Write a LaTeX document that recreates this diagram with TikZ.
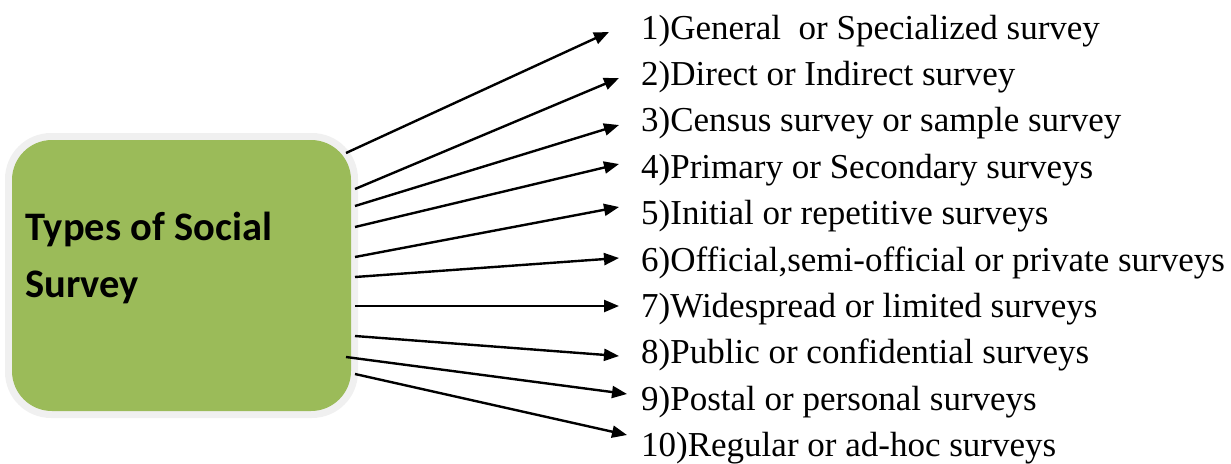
\documentclass[tikz,border=0pt]{standalone}
\usepackage{fontspec}
\setmainfont{Liberation Serif}
\newfontfamily\boxfont{Carlito}
\usetikzlibrary{arrows.meta}
\definecolor{boxgreen}{HTML}{9BBB59}
\definecolor{boxrim}{HTML}{F0F0F0}
\begin{document}
\begin{tikzpicture}[x=1pt,y=-1pt,
  item/.style={anchor=base west,inner sep=0pt,font=\fontsize{35}{35}\selectfont},
  link/.style={line width=2.4pt,-{Triangle[length=15pt,width=12pt]}}]
\useasboundingbox (0,0) rectangle (1231,463);
\fill[boxrim,rounded corners=46pt] (5,133) rectangle (358,418);
\fill[boxgreen,rounded corners=40pt] (12,140) rectangle (351,411);
\node[anchor=base west,inner sep=0pt,align=left,font=\boxfont\bfseries\fontsize{40.5}{57}\selectfont] (box) at (25,297) {Types of Social\\Survey};
\node[item] (l1) at (641,39.0) {1)General\ \ or Specialized survey};
\node[item] (l2) at (641,85.4) {2)Direct or Indirect survey};
\node[item] (l3) at (641,131.8) {3)Census survey or sample survey};
\node[item] (l4) at (641,178.2) {4)Primary or Secondary surveys};
\node[item] (l5) at (641,224.6) {5)Initial or repetitive surveys};
\node[item] (l6) at (641,271.0) {6)Official,semi-official or private surveys};
\node[item] (l7) at (641,317.4) {7)Widespread or limited surveys};
\node[item] (l8) at (641,363.8) {8)Public or confidential surveys};
\node[item] (l9) at (641,410.2) {9)Postal or personal surveys};
\node[item] (l10) at (641,456.6) {10)Regular or ad-hoc surveys};
\foreach \i/\sx/\sy/\tx/\ty in {1/346/153/609/32, 2/355/189/619/78, 3/355/206/619/125,
  4/355/227/619/164, 5/355/257/619/207, 6/355/277/619/258, 7/355/306/619/306,
  8/355/336/619/356, 9/346/357/627/394, 10/355/374/627/435}{
  \coordinate (s\i) at (\sx,\sy);
  \coordinate (t\i) at (\tx,\ty);
  \draw[link] (s\i) -- (t\i);
}
\end{tikzpicture}
\end{document}
